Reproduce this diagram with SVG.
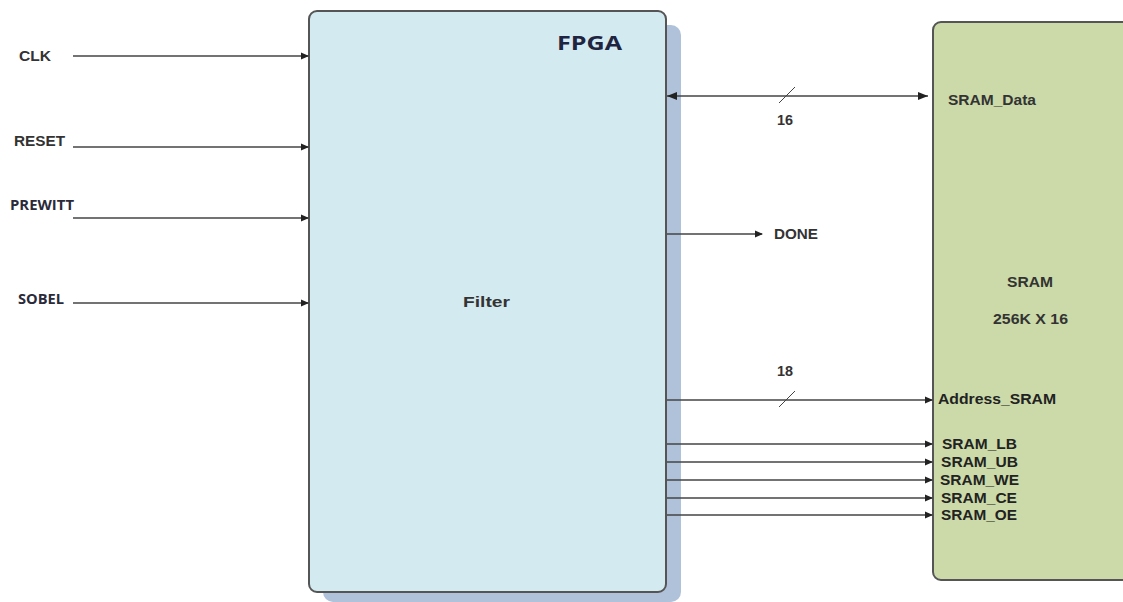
<svg xmlns="http://www.w3.org/2000/svg" width="1123" height="602" viewBox="0 0 1123 602">
<defs>
<marker id="ah" markerWidth="8" markerHeight="8" refX="7" refY="4" orient="auto" markerUnits="userSpaceOnUse">
<path d="M0,0.5 L8,4 L0,7.5 Z" fill="#222"/>
</marker>
<marker id="ahs" markerWidth="10" markerHeight="10" refX="10" refY="4" orient="auto-start-reverse" markerUnits="userSpaceOnUse">
<path d="M0,0 L10,4 L0,8 Z" fill="#222"/>
</marker>
</defs>
<style>
.lbl{font-family:"Liberation Sans",Arial,sans-serif;font-weight:bold;font-size:15px;fill:#333}
.cal{font-family:"Open Sans","Liberation Sans",sans-serif;font-weight:bold;font-size:14px;fill:#2a2a3a}
.sig{font-family:"Liberation Sans",Arial,sans-serif;font-weight:bold;font-size:15px;fill:#222}
.wire{stroke:#444;stroke-width:1.4;fill:none}
.slash{stroke:#444;stroke-width:1}
</style>
<rect width="1123" height="602" fill="#fff"/>
<g id="fpga">
<rect x="323" y="25" width="358" height="577" rx="10" fill="#b0c2da"/>
<rect x="309" y="11" width="357" height="581" rx="8" fill="#d3eaf0" stroke="#555" stroke-width="2"/>
<text x="557" y="50" textLength="65" lengthAdjust="spacingAndGlyphs" font-family="'Open Sans','Liberation Sans',sans-serif" font-weight="bold" font-size="20" fill="#1f2440">FPGA</text>
<text x="463" y="307" textLength="47" lengthAdjust="spacingAndGlyphs" class="lbl" font-size="16">Filter</text>
</g>
<g id="sram">
<rect x="933" y="22" width="200" height="558" rx="8" fill="#cbdaa8" stroke="#555" stroke-width="2"/>
<text x="1007" y="287" textLength="46" lengthAdjust="spacingAndGlyphs" class="lbl">SRAM</text>
<text x="993" y="324" textLength="75" lengthAdjust="spacingAndGlyphs" class="lbl">256K X 16</text>
<text x="948" y="105" textLength="88" lengthAdjust="spacingAndGlyphs" class="lbl">SRAM_Data</text>
<text x="938" y="404" textLength="118" lengthAdjust="spacingAndGlyphs" class="sig">Address_SRAM</text>
<text x="942" y="449" textLength="75" lengthAdjust="spacingAndGlyphs" class="sig">SRAM_LB</text>
<text x="941" y="467" textLength="77" lengthAdjust="spacingAndGlyphs" class="sig">SRAM_UB</text>
<text x="940" y="485" textLength="79" lengthAdjust="spacingAndGlyphs" class="sig">SRAM_WE</text>
<text x="941" y="503" textLength="76" lengthAdjust="spacingAndGlyphs" class="sig">SRAM_CE</text>
<text x="941" y="520" textLength="76" lengthAdjust="spacingAndGlyphs" class="sig">SRAM_OE</text>
</g>
<g id="inputs">
<text x="19" y="61" textLength="32" lengthAdjust="spacingAndGlyphs" class="lbl">CLK</text>
<text x="14" y="146" textLength="51" lengthAdjust="spacingAndGlyphs" class="lbl">RESET</text>
<text x="10" y="210" textLength="64" lengthAdjust="spacingAndGlyphs" class="cal">PREWITT</text>
<text x="18" y="304" textLength="46" lengthAdjust="spacingAndGlyphs" class="cal">SOBEL</text>
<text x="774" y="239" textLength="44" lengthAdjust="spacingAndGlyphs" class="lbl">DONE</text>
<text x="777" y="125" textLength="16" lengthAdjust="spacingAndGlyphs" class="lbl" font-size="14">16</text>
<text x="777" y="376" textLength="16" lengthAdjust="spacingAndGlyphs" class="lbl" font-size="14">18</text>
</g>
<g id="connectors">
<line x1="73" y1="56" x2="308" y2="56" class="wire" marker-end="url(#ah)"/>
<line x1="73" y1="147" x2="308" y2="147" class="wire" marker-end="url(#ah)"/>
<line x1="73" y1="218" x2="308" y2="218" class="wire" marker-end="url(#ah)"/>
<line x1="73" y1="303" x2="308" y2="303" class="wire" marker-end="url(#ah)"/>
<line x1="667" y1="96" x2="928" y2="96" class="wire" marker-start="url(#ahs)" marker-end="url(#ahs)"/>
<line x1="779" y1="103" x2="795" y2="87" class="slash"/>
<line x1="667" y1="234" x2="762" y2="234" class="wire" marker-end="url(#ah)"/>
<line x1="667" y1="400" x2="932" y2="400" class="wire" marker-end="url(#ah)"/>
<line x1="779" y1="407" x2="795" y2="391" class="slash"/>
<line x1="667" y1="444" x2="932" y2="444" class="wire" marker-end="url(#ah)"/>
<line x1="667" y1="462" x2="932" y2="462" class="wire" marker-end="url(#ah)"/>
<line x1="667" y1="480" x2="932" y2="480" class="wire" marker-end="url(#ah)"/>
<line x1="667" y1="498" x2="932" y2="498" class="wire" marker-end="url(#ah)"/>
<line x1="667" y1="515" x2="932" y2="515" class="wire" marker-end="url(#ah)"/>
</g>
</svg>
